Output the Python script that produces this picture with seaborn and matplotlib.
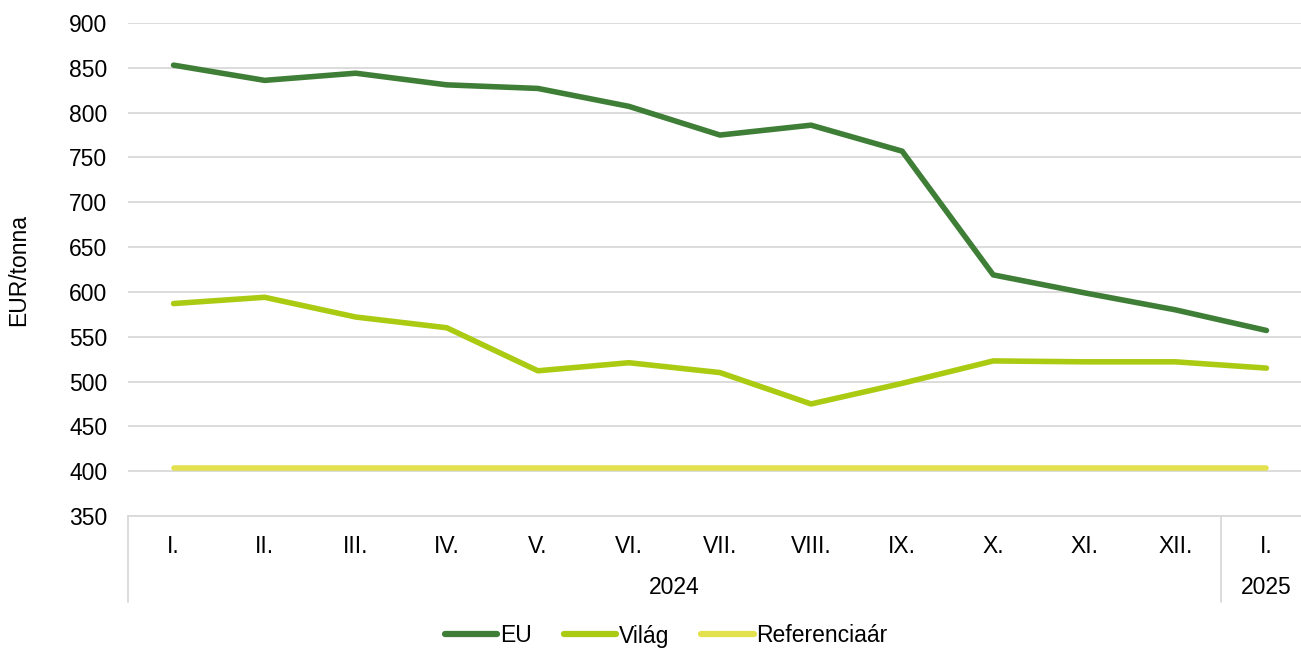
import numpy as np
import pandas as pd
import matplotlib.pyplot as plt
import seaborn as sns

months = ['I.', 'II.', 'III.', 'IV.', 'V.', 'VI.', 'VII.', 'VIII.', 'IX.', 'X.', 'XI.', 'XII.', 'I.']
years = ['2024'] * 12 + ['2025']
eu = [853, 836, 844, 831, 827, 807, 775, 786, 757, 619, 599, 580, 557]
vilag = [587, 594, 572, 560, 512, 521, 510, 475, 498, 523, 522, 522, 515]
referencia = [404] * 13

series_names = ['EU', 'Világ', 'Referenciaár']
colors = ['#3F7E36', '#AACB12', '#E3E14E']

pos = np.arange(len(months))
df = pd.concat([
    pd.DataFrame({'pos': pos, 'value': vals, 'series': name})
    for name, vals in zip(series_names, [eu, vilag, referencia])
])

sns.set_style('white')
plt.rcParams['font.family'] = ['Liberation Sans', 'DejaVu Sans']
plt.rcParams['text.color'] = 'black'
plt.rcParams['xtick.color'] = 'black'
plt.rcParams['ytick.color'] = 'black'
plt.rcParams['axes.labelcolor'] = 'black'

FS = 16.5

fig = plt.figure(figsize=(13.01, 6.49), dpi=100)
ax = fig.add_axes([128 / 1301, 1 - 516 / 649, (1312 - 128) / 1301, (516 - 23) / 649])

sns.lineplot(data=df, x='pos', y='value', hue='series', palette=dict(zip(series_names, colors)),
             linewidth=4, ax=ax, legend=False, solid_capstyle='round')

ax.set_xlim(-0.5, len(months) - 0.5)
ax.set_ylim(350, 900)
ax.set_yticks(range(350, 901, 50))
ax.tick_params(axis='y', labelsize=FS, length=0, pad=15)
ax.yaxis.grid(True, color='#D9D9D9', linewidth=1.3)
ax.set_axisbelow(True)
for s in ['top', 'right', 'left']:
    ax.spines[s].set_visible(False)
ax.spines['bottom'].set_color('#D9D9D9')
ax.spines['bottom'].set_linewidth(1.3)

ax.set_xticks(pos)
ax.set_xticklabels(months, fontsize=FS)
ax.tick_params(axis='x', length=0, pad=14)
ax.set_xlabel('')
ax.set_ylabel('EUR/tonna', fontsize=FS, labelpad=28)

# year group labels and separators
trans = ax.get_xaxis_transform()
groups = [('2024', 0, 11), ('2025', 12, 12)]
for label, a, b in groups:
    ax.text((a + b) / 2, -0.146, label, transform=trans, ha='center', va='center', fontsize=FS)
for xb in [-0.5, 11.5]:
    ax.plot([xb, xb], [0, -0.174], transform=trans, color='#D9D9D9', linewidth=1.3, clip_on=False)

handles = [plt.Line2D([], [], color=c, linewidth=4.5, solid_capstyle='round') for c in colors]
fig.legend(handles, series_names, loc='center', bbox_to_anchor=(666 / 1301, 1 - 636 / 649),
           ncol=3, frameon=False, fontsize=FS, handlelength=2.3, handletextpad=0.1, columnspacing=1.4)

fig.savefig('out.png', dpi=100)
